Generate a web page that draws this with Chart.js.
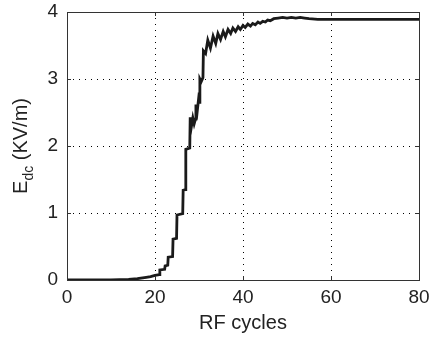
<!DOCTYPE html>
<html>
<head>
<meta charset="utf-8">
<script src="https://cdn.jsdelivr.net/npm/chart.js@4"></script>
<style>
  html, body { margin: 0; padding: 0; background: #fff; }
  #wrap { width: 429px; height: 339px; }
</style>
</head>
<body>
<div id="wrap"><canvas id="chart"></canvas></div>
<script>
// RF cycles vs E_dc (KV/m)
const cycles = [0, 5, 10, 14, 16, 18, 19, 20, 21.0, 21.1, 22.2, 22.3, 22.9, 23.0, 24.0, 24.1, 24.9, 25.0,
  26.3, 26.4, 26.9, 27.0, 27.9, 28.0, 28.3, 28.6, 28.9, 29.2, 29.3, 29.6, 29.9, 30.1, 30.2, 30.5, 30.9,
  31.0, 31.5, 32.0, 32.6, 33.2, 33.8, 34.3, 34.9, 35.5, 36.0, 36.6, 37.2, 37.7, 38.3, 38.9, 39.4, 40.0,
  40.5, 41.1, 41.7, 42.2, 42.8, 43.4, 43.9, 44.5, 45.1, 45.6, 46.2, 47.0, 48.0, 49.0, 50.0, 51.0, 52.0,
  53.0, 54.0, 55.0, 57.0, 60.0, 80.0];
const edc = [0, 0, 0, 0.01, 0.02, 0.04, 0.05, 0.07, 0.08, 0.15, 0.16, 0.21, 0.22, 0.34, 0.35, 0.61, 0.62, 0.97,
  0.99, 1.34, 1.35, 1.95, 1.97, 2.43, 2.30, 2.42, 2.33, 2.40, 2.62, 2.52, 2.70, 2.65, 3.00, 2.96, 3.02,
  3.42, 3.38, 3.58, 3.46, 3.64, 3.53, 3.68, 3.59, 3.71, 3.63, 3.74, 3.68, 3.76, 3.71, 3.78, 3.74, 3.80,
  3.77, 3.82, 3.79, 3.83, 3.81, 3.85, 3.83, 3.86, 3.85, 3.88, 3.87, 3.90, 3.91, 3.92, 3.91, 3.92, 3.91,
  3.92, 3.91, 3.90, 3.89, 3.89, 3.89];
const xTicks = [0, 20, 40, 60, 80];
const yTicks = [0, 1, 2, 3, 4];

const FONT = '"Liberation Sans", Arial, Helvetica, sans-serif';
const INK = '#222';

// MATLAB style box with inward tick marks, plus the y title with subscript
const matlabBox = {
  id: 'matlabBox',
  afterDraw(c) {
    const ctx = c.ctx, a = c.chartArea;
    const xs = c.scales.x, ys = c.scales.y;
    ctx.save();
    ctx.strokeStyle = '#333';
    ctx.lineWidth = 1;
    ctx.strokeRect(Math.round(a.left) + 0.5, Math.round(a.top) + 0.5,
      Math.round(a.right - a.left), Math.round(a.bottom - a.top));
    ctx.beginPath();
    xTicks.forEach(t => {
      const px = Math.round(xs.getPixelForValue(t)) + 0.5;
      ctx.moveTo(px, a.bottom); ctx.lineTo(px, a.bottom - 4);
      ctx.moveTo(px, a.top); ctx.lineTo(px, a.top + 4);
    });
    yTicks.forEach(t => {
      const py = Math.round(ys.getPixelForValue(t)) + 0.5;
      ctx.moveTo(a.left, py); ctx.lineTo(a.left + 4, py);
      ctx.moveTo(a.right, py); ctx.lineTo(a.right - 4, py);
    });
    ctx.stroke();

    // y title: E_dc (KV/m)
    ctx.translate(27, (a.top + a.bottom) / 2);
    ctx.rotate(-Math.PI / 2);
    ctx.fillStyle = INK;
    ctx.textBaseline = 'alphabetic';
    const big = '20px ' + FONT, small = '14px ' + FONT;
    ctx.font = big; const wE = ctx.measureText('E').width;
    const wRest = ctx.measureText(' (KV/m)').width;
    ctx.font = small; const wSub = ctx.measureText('dc').width;
    let x0 = -(wE + wSub + wRest) / 2;
    ctx.font = big; ctx.fillText('E', x0, 0);
    ctx.font = small; ctx.fillText('dc', x0 + wE, 6);
    ctx.font = big; ctx.fillText(' (KV/m)', x0 + wE + wSub, 0);
    ctx.restore();
  }
};

new Chart(document.getElementById('chart'), {
  type: 'scatter',
  data: {
    datasets: [{
      data: cycles.map((x, i) => ({ x: x, y: edc[i] })),
      showLine: true,
      borderColor: '#1a1a1a',
      borderWidth: 2.8,
      pointRadius: 0,
      tension: 0
    }]
  },
  options: {
    responsive: true,
    maintainAspectRatio: false,
    animation: false,
    layout: { padding: { top: 12, right: 10, left: 0, bottom: 0 } },
    plugins: { legend: { display: false }, tooltip: { enabled: false } },
    scales: {
      x: {
        type: 'linear', min: 0, max: 80,
        afterBuildTicks: s => { s.ticks = xTicks.map(v => ({ value: v })); },
        afterFit: s => { s.height = 59; s.paddingLeft = 0; s.paddingRight = 0; },
        grid: { color: '#000', lineWidth: 1, drawTicks: false },
        border: { display: false, dash: [1, 5] },
        ticks: { color: INK, font: { family: FONT, size: 19 }, padding: 6, maxRotation: 0 },
        title: {
          display: true, text: 'RF cycles', color: INK,
          font: { family: FONT, size: 20 }, padding: { top: 0 }
        }
      },
      y: {
        type: 'linear', min: 0, max: 4,
        afterBuildTicks: s => { s.ticks = yTicks.map(v => ({ value: v })); },
        afterFit: s => { s.width = 67; s.paddingTop = 0; s.paddingBottom = 0; },
        grid: { color: '#000', lineWidth: 1, drawTicks: false },
        border: { display: false, dash: [1, 5] },
        ticks: { color: INK, font: { family: FONT, size: 19 }, padding: 9 }
      }
    }
  },
  plugins: [matlabBox]
});
</script>
</body>
</html>
